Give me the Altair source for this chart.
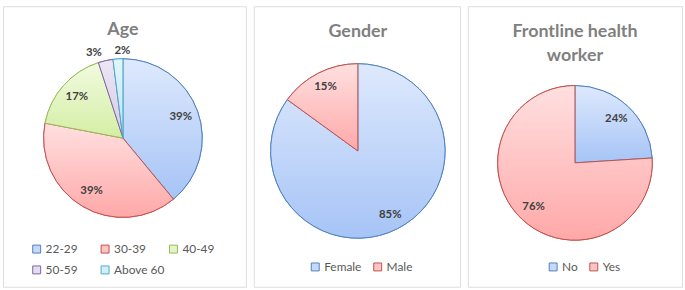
import altair as alt
import pandas as pd

# ---- data ----
age_cats = ["22-29", "30-39", "40-49", "50-59", "Above 60"]
age_vals = [39, 39, 17, 3, 2]
gender_cats = ["Female", "Male"]
gender_vals = [85, 15]
flw_cats = ["No", "Yes"]
flw_vals = [24, 76]
titles = ["Age", "Gender", "Frontline health\nworker"]

# ---- styles ----
age_fills = ["#c6d9fa", "#ffc4c4", "#e3f4c6", "#e4dcef", "#d2eff8"]
age_tops = ["#dee9fd", "#ffe0e0", "#f1fae0", "#ece6f5", "#e2f5fb"]
age_bottoms = ["#a6c4f6", "#ffa8a8", "#d4eea4", "#d6cae8", "#b6e5f3"]
age_strokes = ["#4f81bd", "#c0504d", "#9bbb59", "#8064a2", "#4bacc6"]
two_fills = age_fills[:2]
two_tops = age_tops[:2]
two_bottoms = age_bottoms[:2]
two_strokes = age_strokes[:2]
FONT = "Lato"


def grad(top, bottom):
    return {"gradient": "linear", "x1": 0, "y1": 0, "x2": 0, "y2": 1,
            "stops": [{"offset": 0, "color": top}, {"offset": 1, "color": bottom}]}


def panel(cats, vals, title, fills, tops, bottoms, strokes, w, h, cx, cy, R,
          lab_r, out_r, out_dx, title_y, leg_x, leg_y, columns=None):
    df = pd.DataFrame({"cat": cats, "val": vals, "order": list(range(len(cats)))})
    base = alt.Chart(df).transform_calculate(
        label="datum.val + '%'"
    ).encode(
        theta=alt.Theta("val:Q", stack=True),
        order=alt.Order("order:Q"),
    )
    leg_kw = dict(
        title=None, orient="none", legendX=leg_x, legendY=leg_y,
        direction="horizontal",
        symbolType="square", symbolSize=64, symbolStrokeWidth=1,
        labelFont=FONT, labelFontSize=12, labelColor="#595959",
        labelOffset=3, padding=0, columnPadding=10, rowPadding=9,
    )
    if columns:
        leg_kw["columns"] = columns
        leg_kw["gridAlign"] = "all"
        leg_kw["columnPadding"] = 3
    legend = alt.Legend(**leg_kw)
    fill_enc = alt.Color("cat:N", scale=alt.Scale(domain=cats, range=fills),
                         legend=legend, sort=cats)
    stroke_enc = alt.Stroke("cat:N", scale=alt.Scale(domain=cats, range=strokes),
                            legend=legend, sort=cats)
    arc_legend = base.mark_arc(outerRadius=R, strokeWidth=1).encode(
        fill=fill_enc, stroke=stroke_enc,
        x=alt.value(cx), y=alt.value(cy),
    )
    conds = [{"test": f"datum.cat === '{c}'", "value": grad(t, b)}
             for c, t, b in zip(cats[:-1], tops[:-1], bottoms[:-1])]
    grad_fill = {"condition": conds, "value": grad(tops[-1], bottoms[-1])}
    arc_grad = base.mark_arc(outerRadius=R, strokeWidth=1).encode(
        fill=grad_fill, stroke=stroke_enc,
        x=alt.value(cx), y=alt.value(cy),
    )
    txt_kw = dict(font=FONT, fontSize=11.5, fontWeight="bold", color="#404040",
                  align="center", baseline="middle")
    layers = [arc_legend, arc_grad]
    layers.append(base.mark_text(radius=lab_r, **txt_kw).encode(
        text=alt.condition("datum.val >= 5", alt.Text("label:N"), alt.value("")),
        x=alt.value(cx), y=alt.value(cy),
    ))
    # small slices: labels placed outside the pie, nudged apart
    for i, dx in out_dx:
        layers.append(base.mark_text(radius=out_r, dx=dx, **txt_kw).encode(
            text=alt.condition(f"datum.order === {i}", alt.Text("label:N"), alt.value("")),
            x=alt.value(cx), y=alt.value(cy),
        ))
    layers.append(alt.Chart(pd.DataFrame({"t": [title]})).mark_text(
        font=FONT, fontSize=18, fontWeight="bold", color="#7f7f7f",
        align="center", baseline="middle", lineBreak="\n", lineHeight=24,
    ).encode(text="t:N", x=alt.value(cx), y=alt.value(title_y)))
    return alt.layer(*layers).properties(width=w, height=h)


p1 = panel(age_cats, age_vals, titles[0], age_fills, age_tops, age_bottoms, age_strokes,
           245, 283, 121, 133, 80, 62, 88, [(3, -10), (4, 5)], 24, 28, 239, columns=3)
p2 = panel(gender_cats, gender_vals, titles[1], two_fills, two_tops, two_bottoms, two_strokes,
           208, 283, 105, 146, 88, 72, 95, [], 26, 56, 257)
p3 = panel(flw_cats, flw_vals, titles[2], two_fills, two_tops, two_bottoms, two_strokes,
           216, 283, 108, 158, 78, 61, 90, [], 26, 80, 257)

chart = alt.hconcat(p1, p2, p3, spacing=6).resolve_scale(
    fill="independent", stroke="independent"
).resolve_legend(fill="independent", stroke="independent").properties(
    padding={"left": 2, "top": 4, "right": 2, "bottom": 2}
).configure_view(stroke="#d9d9d9", strokeWidth=1).configure(background="white")

chart.save("out.html", embed_options={"renderer": "svg", "actions": False})
